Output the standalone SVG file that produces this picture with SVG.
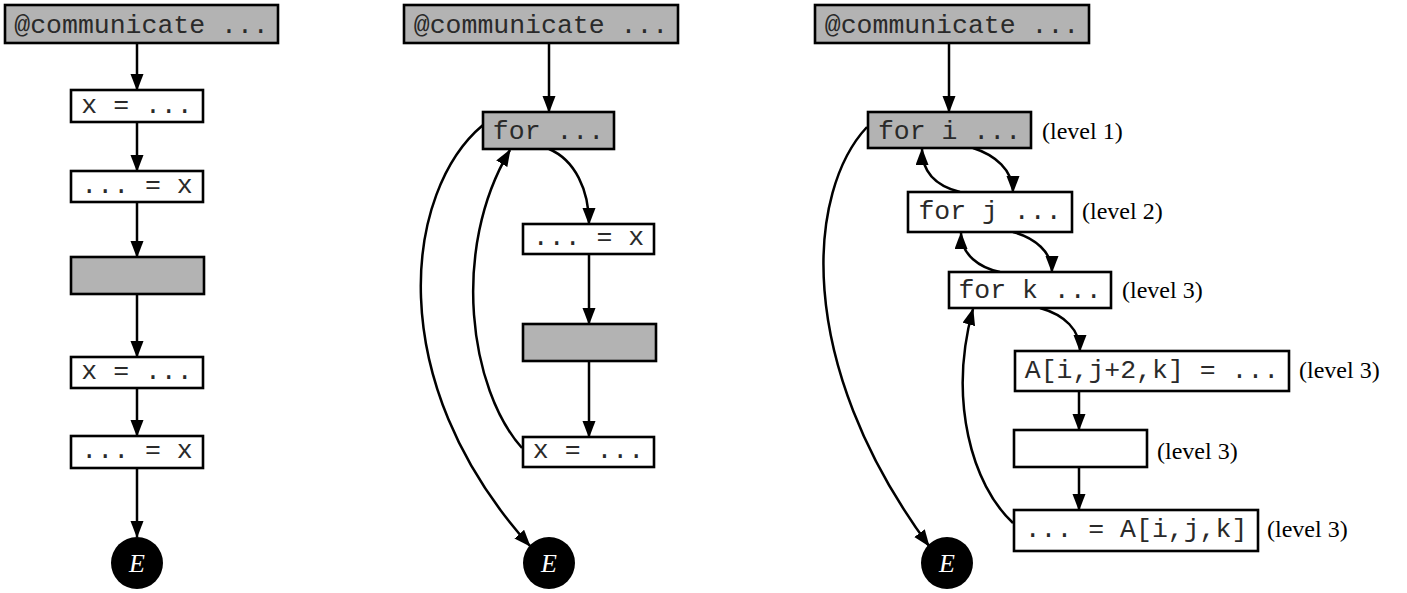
<svg xmlns="http://www.w3.org/2000/svg" width="1407" height="593" viewBox="0 0 1407 593">
<defs>
<style>
.b{fill:#fff;stroke:#000;stroke-width:2.6}
.g{fill:#b3b3b3;stroke:#000;stroke-width:2.6}
.m{font-family:"Liberation Mono",monospace;font-size:26.5px;fill:#2a2a2a;text-anchor:middle}
.l{font-family:"Liberation Serif",serif;font-size:24px;fill:#000}
.e{font-family:"Liberation Serif",serif;font-style:italic;font-size:26px;fill:#fff;text-anchor:middle}
.c{fill:none;stroke:#000;stroke-width:2.5;marker-end:url(#ah)}
</style>
<marker id="ah" markerUnits="userSpaceOnUse" markerWidth="18" markerHeight="14" refX="16" refY="6.5" orient="auto">
<path d="M0,0 L17,6.5 L0,13 z" fill="#000"/>
</marker>
</defs>
<g id="connectors">
<path class="c" d="M137,43 V90"/>
<path class="c" d="M137,122 V171"/>
<path class="c" d="M137,202 V257"/>
<path class="c" d="M137,294 V357"/>
<path class="c" d="M137,388 V436"/>
<path class="c" d="M137,468 V537"/>
<path class="c" d="M549,43 V112"/>
<path class="c" d="M549,149 C575,160 589,190 589,224"/>
<path class="c" d="M589,254 V324"/>
<path class="c" d="M589,361 V437"/>
<path class="c" d="M522,448 C470,390 450,250 510,150"/>
<path class="c" d="M483,125 C405,190 380,380 530,546"/>
<path class="c" d="M949,43 V112"/>
<path class="c" d="M973,148 C995,155 1013,170 1013,192"/>
<path class="c" d="M960,192 C940,187 922,175 922,149"/>
<path class="c" d="M1013,232 C1035,238 1052,252 1052,272"/>
<path class="c" d="M1000,272 C980,268 961,255 961,233"/>
<path class="c" d="M1040,308 C1065,315 1080,330 1080,351"/>
<path class="c" d="M1079,391 V430"/>
<path class="c" d="M1079,467 V510"/>
<path class="c" d="M1013,523 C972,485 948,400 973,309"/>
<path class="c" d="M867,127 C808,190 792,360 929,546"/>
</g>
<g id="p1-comm"><rect class="g" x="5" y="5" width="273" height="38"/><text class="m" x="141.5" y="33">@communicate ...</text></g>
<g id="p1-def1"><rect class="b" x="71" y="90" width="132" height="32"/><text class="m" x="137" y="112.5">x = ...</text></g>
<g id="p1-use1"><rect class="b" x="71" y="171" width="132" height="31"/><text class="m" x="137" y="193">... = x</text></g>
<g id="p1-grey"><rect class="g" x="71" y="257" width="133" height="37"/></g>
<g id="p1-def2"><rect class="b" x="71" y="357" width="132" height="31"/><text class="m" x="137" y="379">x = ...</text></g>
<g id="p1-use2"><rect class="b" x="71" y="436" width="132" height="32"/><text class="m" x="137" y="458">... = x</text></g>
<g id="p1-E"><circle cx="137" cy="563" r="26" fill="#000"/><text class="e" x="137" y="572">E</text></g>
<g id="p2-comm"><rect class="g" x="404" y="5" width="274" height="38"/><text class="m" x="541" y="33">@communicate ...</text></g>
<g id="p2-for"><rect class="g" x="483" y="112" width="131" height="37"/><text class="m" x="548.5" y="139">for ...</text></g>
<g id="p2-use"><rect class="b" x="523" y="224" width="131" height="30"/><text class="m" x="588.5" y="245">... = x</text></g>
<g id="p2-grey"><rect class="g" x="523" y="324" width="133" height="37"/></g>
<g id="p2-def"><rect class="b" x="523" y="437" width="131" height="30"/><text class="m" x="588.5" y="458">x = ...</text></g>
<g id="p2-E"><circle cx="549" cy="563" r="26" fill="#000"/><text class="e" x="549" y="572">E</text></g>
<g id="p3-comm"><rect class="g" x="815" y="5" width="274" height="38"/><text class="m" x="952" y="33">@communicate ...</text></g>
<g id="p3-fori"><rect class="g" x="868" y="112" width="163" height="36"/><text class="m" x="949.5" y="139">for i ...</text><text class="l" x="1042" y="139">(level 1)</text></g>
<g id="p3-forj"><rect class="b" x="908" y="192" width="164" height="40"/><text class="m" x="990" y="219">for j ...</text><text class="l" x="1082" y="219">(level 2)</text></g>
<g id="p3-fork"><rect class="b" x="949" y="272" width="162" height="36"/><text class="m" x="1030" y="298">for k ...</text><text class="l" x="1122" y="298">(level 3)</text></g>
<g id="p3-write"><rect class="b" x="1015" y="351" width="274" height="40"/><text class="m" x="1152" y="378">A[i,j+2,k] = ...</text><text class="l" x="1299" y="378">(level 3)</text></g>
<g id="p3-empty"><rect class="b" x="1014" y="430" width="133" height="37"/><text class="l" x="1157" y="459">(level 3)</text></g>
<g id="p3-read"><rect class="b" x="1014" y="510" width="244" height="41"/><text class="m" x="1136" y="537">... = A[i,j,k]</text><text class="l" x="1267" y="537">(level 3)</text></g>
<g id="p3-E"><circle cx="947" cy="563" r="26" fill="#000"/><text class="e" x="947" y="572">E</text></g>
</svg>
